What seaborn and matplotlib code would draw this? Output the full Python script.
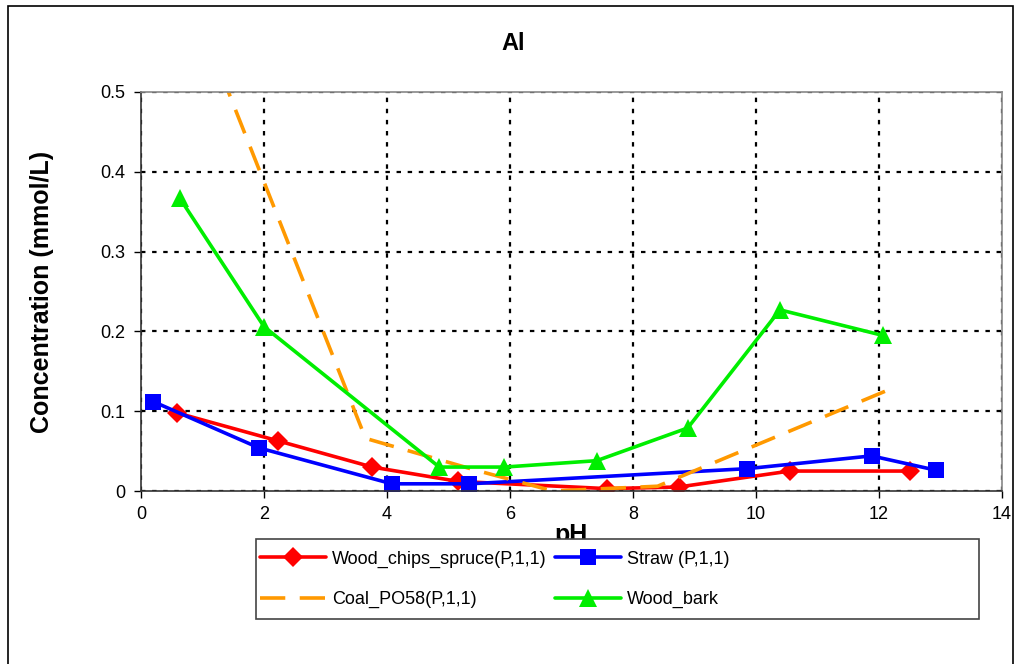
import matplotlib
matplotlib.use("Agg")
import matplotlib.pyplot as plt
import seaborn as sns
from matplotlib.patches import Rectangle

# ---- data ----
wood_chips_ph = [0.58, 2.22, 3.76, 5.16, 7.57, 8.74, 10.55, 12.51]
wood_chips_conc = [0.098, 0.063, 0.030, 0.012, 0.003, 0.005, 0.025, 0.025]

straw_ph = [0.20, 1.92, 4.08, 5.34, 9.86, 11.88, 12.93]
straw_conc = [0.112, 0.054, 0.009, 0.009, 0.028, 0.044, 0.026]

coal_ph = [0.60, 3.65, 5.40, 6.70, 8.40, 12.10]
coal_conc = [0.66, 0.066, 0.027, 0.000, 0.006, 0.125]

bark_ph = [0.63, 2.00, 4.85, 5.91, 7.41, 8.89, 10.39, 12.06]
bark_conc = [0.367, 0.206, 0.030, 0.030, 0.038, 0.079, 0.227, 0.195]

series_names = ["Wood_chips_spruce(P,1,1)", "Straw (P,1,1)", "Coal_PO58(P,1,1)", "Wood_bark"]
x_ticks = [0, 2, 4, 6, 8, 10, 12, 14]
y_ticks = [0, 0.1, 0.2, 0.3, 0.4, 0.5]
y_tick_labels = ["0", "0.1", "0.2", "0.3", "0.4", "0.5"]

sns.set_theme(style="white")
plt.rcParams['font.family'] = ['Liberation Sans', 'DejaVu Sans']
plt.rcParams['text.color'] = 'black'
plt.rcParams['axes.labelcolor'] = 'black'
plt.rcParams['xtick.color'] = 'black'
plt.rcParams['ytick.color'] = 'black'

fig = plt.figure(figsize=(10.18, 6.64), dpi=100)
W, H = 1018, 664
ax = fig.add_axes([141 / W, 1 - 491 / H, (1002 - 141) / W, (491 - 92) / H])

# outer frame
fig.patches.append(Rectangle((8 / W, -0.01), (1013 - 8) / W, (1 - 6 / H) + 0.01,
                             transform=fig.transFigure, fill=False,
                             edgecolor="black", linewidth=1.2))

lw = 2.6
sns.lineplot(x=wood_chips_ph, y=wood_chips_conc, ax=ax, color="#ff0000", marker="D",
             markersize=10, markeredgewidth=0, linewidth=lw, sort=False,
             label=series_names[0])
sns.lineplot(x=straw_ph, y=straw_conc, ax=ax, color="#0000ff", marker="s",
             markersize=11, markeredgewidth=0, linewidth=lw, sort=False,
             label=series_names[1])
sns.lineplot(x=coal_ph, y=coal_conc, ax=ax, color="#ff9900", linewidth=lw,
             sort=False, label=series_names[2], dashes=False)
ax.lines[-1].set_dashes([7, 4])
sns.lineplot(x=bark_ph, y=bark_conc, ax=ax, color="#00ee00", marker="^",
             markersize=13, markeredgewidth=0, linewidth=lw, sort=False,
             label=series_names[3])

ax.set_xlim(0, 14)
ax.set_ylim(0, 0.5)
ax.set_xticks(x_ticks)
ax.set_yticks(y_ticks)
ax.set_yticklabels(y_tick_labels)
ax.tick_params(axis="both", labelsize=13, colors="black", labelcolor="black",
               length=5, width=1, direction="out", bottom=True, left=True, pad=6)
ax.grid(True, color="black", linestyle=(0, (2, 3)), linewidth=1.6)
for s in ["left", "bottom"]:
    ax.spines[s].set_color("#333333")
    ax.spines[s].set_linewidth(1.2)
for s in ["top", "right"]:
    ax.spines[s].set_color("#888888")
    ax.spines[s].set_linewidth(1.2)

ax.set_xlabel("")
ax.set_ylabel("Concentration (mmol/L)", fontsize=18, fontweight="bold", labelpad=34,
              color="black")
fig.text(571 / W, 1 - 542 / H, "pH", fontsize=18, fontweight="bold", ha="center",
         va="baseline", zorder=1, color="black")
fig.text(513 / W, 1 - 43 / H, "Al", fontsize=17, fontweight="bold", ha="center",
         va="center", color="black")

handles, labels = ax.get_legend_handles_labels()
ax.get_legend().remove()
order = [0, 2, 1, 3]
handles = [handles[i] for i in order]
labels = [labels[i] for i in order]

# legend box
fig.patches.append(Rectangle((256 / W, 1 - 619 / H), (979 - 256) / W, (619 - 539) / H,
                             transform=fig.transFigure, facecolor="white",
                             edgecolor="#444444", linewidth=1.2, zorder=5))
leg = fig.legend(handles, labels, loc="upper left",
                 bbox_to_anchor=(256 / W, 1 - 547 / H),
                 ncol=2, fontsize=13, frameon=False, handlelength=3.7,
                 handletextpad=0.3, borderaxespad=0, borderpad=0.2,
                 columnspacing=0.45, labelspacing=1.3)
for t in leg.get_texts():
    t.set_color("black")
leg.set_zorder(10)

fig.savefig("out.png", dpi=100)
